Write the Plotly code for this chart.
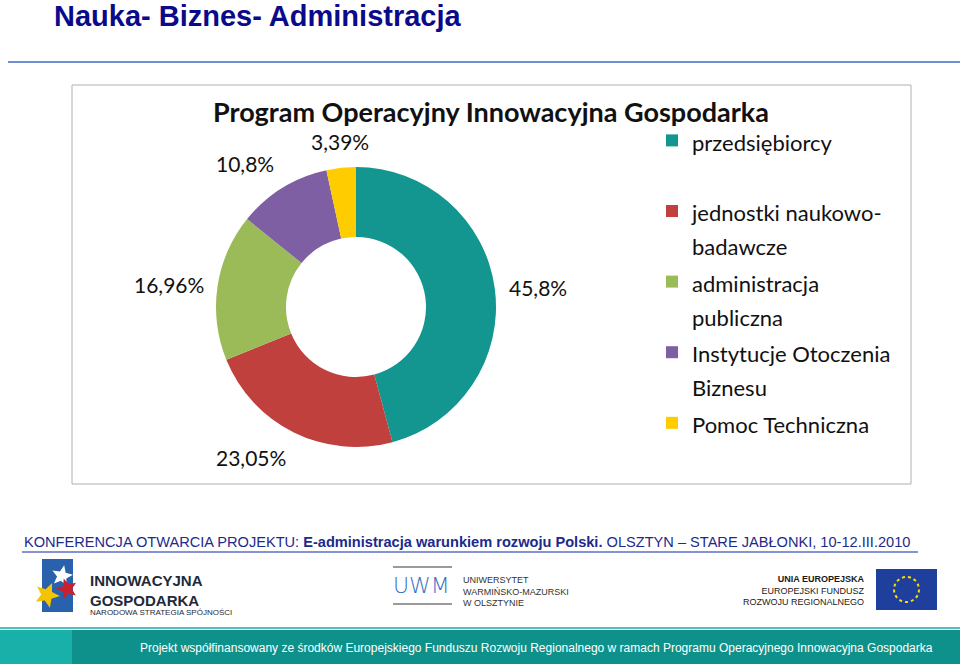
import math
import plotly.graph_objects as go

# Data
categories = [
    "przedsiębiorcy",
    "jednostki naukowo-badawcze",
    "administracja publiczna",
    "Instytucje Otoczenia Biznesu",
    "Pomoc Techniczna",
]
legend_lines = [
    ["przedsiębiorcy", " "],
    ["jednostki naukowo-", "badawcze"],
    ["administracja", "publiczna"],
    ["Instytucje Otoczenia", "Biznesu"],
    ["Pomoc Techniczna", " "],
]
values = [45.8, 23.05, 16.96, 10.8, 3.39]
slice_colors = ["#12968f", "#c0403d", "#9bbb59", "#7f5fa3", "#ffcc00"]

W, H = 960, 664


def px(x):
    return x / W


def py(y):
    return 1 - y / H


def star_path(x, y, R, rot=0.0):
    # five-pointed star outline in paper coordinates (decoration for the logo)
    pts = []
    for k in range(10):
        rr = R if k % 2 == 0 else R * 0.45
        a = rot + k * math.pi / 5
        pts.append((px(x + rr * math.sin(a)), py(y - rr * math.cos(a))))
    return "M " + " L ".join(f"{a:.5f},{b:.5f}" for a, b in pts) + " Z"


value_text = [f"{v}".replace(".", ",") + "%" for v in values]
legend_labels = ["<br>".join(f"<span style='font-size:22px'>{t}</span>" for t in lines)
                 for lines in legend_lines]

# pie centre (356, 307), radius 140 px
cx, cy, r = 356, 307, 140

fig = go.Figure()
fig.add_trace(go.Pie(
    labels=legend_labels,
    values=values,
    customdata=categories,
    text=value_text,
    textinfo="none",
    hole=0.5,
    sort=False,
    direction="clockwise",
    rotation=0,
    marker=dict(colors=slice_colors, line=dict(width=0)),
    domain=dict(x=[px(cx - r), px(cx + r)], y=[py(cy + r), py(cy - r)]),
    hovertemplate="%{customdata}: %{text}<extra></extra>",
))

shapes = []
annotations = []

# data labels just outside each slice, at the slice's middle angle
total = sum(values)
acc = 0
gap = 12
for v, t in zip(values, value_text):
    ang = 2 * math.pi * (acc + v / 2) / total
    acc += v
    s, c = math.sin(ang), math.cos(ang)
    lx = cx + (r + gap) * s
    ly = cy - (r + gap) * c
    xa = "left" if s > 0.2 else ("right" if s < -0.2 else "center")
    ya = "bottom" if c > 0.2 else ("top" if c < -0.2 else "middle")
    annotations.append(dict(text=t, x=px(lx), y=py(ly), xanchor=xa, yanchor=ya,
                            showarrow=False,
                            font=dict(family="Lato", size=21, color="#111111")))

# slide title + rule
annotations.append(dict(
    text="<b>Nauka- Biznes- Administracja</b>", x=px(52), y=py(16),
    xanchor="left", yanchor="middle", showarrow=False,
    font=dict(family="Liberation Sans", size=29, color="#0b0b8a")))
shapes.append(dict(type="line", x0=px(8), x1=px(960), y0=py(62), y1=py(62),
                   line=dict(color="#6e8fd4", width=2)))

# chart frame
shapes.append(dict(type="rect", x0=px(72), x1=px(911), y0=py(484), y1=py(85),
                   line=dict(color="#b0b0b0", width=1), fillcolor="rgba(0,0,0,0)",
                   layer="below"))
annotations.append(dict(
    text="<b>Program Operacyjny Innowacyjna Gospodarka</b>", x=px(491), y=py(112),
    xanchor="center", yanchor="middle", showarrow=False,
    font=dict(family="Lato", size=27, color="#111111")))

# conference line
annotations.append(dict(
    text=("KONFERENCJA OTWARCIA PROJEKTU: <b>E-administracja warunkiem rozwoju Polski.</b>"
          " OLSZTYN – STARE JABŁONKI, 10-12.III.2010"),
    x=px(22), y=py(542), xanchor="left", yanchor="middle", showarrow=False,
    font=dict(family="Liberation Sans", size=14.6, color="#1c2a8c")))
shapes.append(dict(type="line", x0=px(22), x1=px(918), y0=py(552), y1=py(552),
                   line=dict(color="#5a6fc4", width=1.5)))

# left logo: Innowacyjna Gospodarka
shapes.append(dict(type="rect", x0=px(42), x1=px(73), y0=py(612), y1=py(559),
                   fillcolor="#2a61ad", line=dict(width=0)))
for sx, sy, rad, col, rot in [(62, 576, 11, "#ffffff", 0.2), (67, 589, 11, "#c8202e", -0.3),
                              (47, 595, 13, "#f5c400", 0.4)]:
    shapes.append(dict(type="path", path=star_path(sx, sy, rad, rot),
                       fillcolor=col, line=dict(width=0)))
annotations.append(dict(
    text="<b>INNOWACYJNA<br>GOSPODARKA</b>", x=px(88), y=py(590), xanchor="left",
    yanchor="middle", showarrow=False, align="left",
    font=dict(family="Liberation Sans", size=15, color="#222a3a")))
annotations.append(dict(
    text="NARODOWA STRATEGIA SPÓJNOŚCI", x=px(88), y=py(612), xanchor="left",
    yanchor="middle", showarrow=False,
    font=dict(family="Liberation Sans", size=8, color="#222a3a")))

# middle logo: UWM
shapes.append(dict(type="line", x0=px(393), x1=px(452), y0=py(567), y1=py(567),
                   line=dict(color="#9a9a9a", width=2)))
shapes.append(dict(type="line", x0=px(393), x1=px(452), y0=py(604), y1=py(604),
                   line=dict(color="#9a9a9a", width=2)))
annotations.append(dict(
    text="UWM", x=px(421), y=py(585), showarrow=False, yanchor="middle",
    font=dict(family="DejaVu Sans Light, DejaVu Sans", size=22, color="#3a6fbf")))
annotations.append(dict(
    text="UNIWERSYTET<br>WARMIŃSKO-MAZURSKI<br>W OLSZTYNIE", x=px(461), y=py(591),
    xanchor="left", yanchor="middle", showarrow=False, align="left",
    font=dict(family="Liberation Sans", size=9, color="#333333")))

# right logo: EU
annotations.append(dict(
    text="<b>UNIA EUROPEJSKA</b><br>EUROPEJSKI FUNDUSZ<br>ROZWOJU REGIONALNEGO",
    x=px(867), y=py(590), xanchor="right", yanchor="middle", showarrow=False,
    align="right",
    font=dict(family="Liberation Sans", size=9, color="#1a1a1a")))
shapes.append(dict(type="rect", x0=px(876), x1=px(937), y0=py(610), y1=py(569),
                   fillcolor="#1f3f9c", line=dict(width=0)))
shapes.append(dict(type="circle", x0=px(894), x1=px(919), y0=py(602), y1=py(577),
                   line=dict(color="#ffdd00", width=2, dash="dot"), fillcolor="rgba(0,0,0,0)"))

# footer bar
shapes.append(dict(type="line", x0=0, x1=1, y0=py(628), y1=py(628),
                   line=dict(color="#1aa9a3", width=1.5)))
shapes.append(dict(type="rect", x0=0, x1=px(72), y0=0, y1=py(630),
                   fillcolor="#18b0a8", line=dict(width=0)))
shapes.append(dict(type="rect", x0=px(72), x1=1, y0=0, y1=py(630),
                   fillcolor="#0f918b", line=dict(width=0)))
annotations.append(dict(
    text=("Projekt współfinansowany ze środków Europejskiego Funduszu Rozwoju Regionalnego"
          " w ramach Programu Operacyjnego Innowacyjna Gospodarka"),
    x=px(935), y=py(648), xanchor="right", yanchor="middle", showarrow=False,
    font=dict(family="Liberation Sans", size=12, color="#ffffff")))

fig.update_layout(
    width=W, height=H,
    margin=dict(l=0, r=0, t=0, b=0),
    paper_bgcolor="white",
    plot_bgcolor="white",
    showlegend=True,
    legend=dict(
        x=px(652), y=py(117), xanchor="left", yanchor="top",
        font=dict(family="Lato", size=26, color="#111111"),
        valign="top", traceorder="normal", bgcolor="rgba(0,0,0,0)",
    ),
    shapes=shapes,
    annotations=annotations,
)

fig.write_html("out.html", config={"displayModeBar": False},
               post_script="document.body.style.margin='0';")
